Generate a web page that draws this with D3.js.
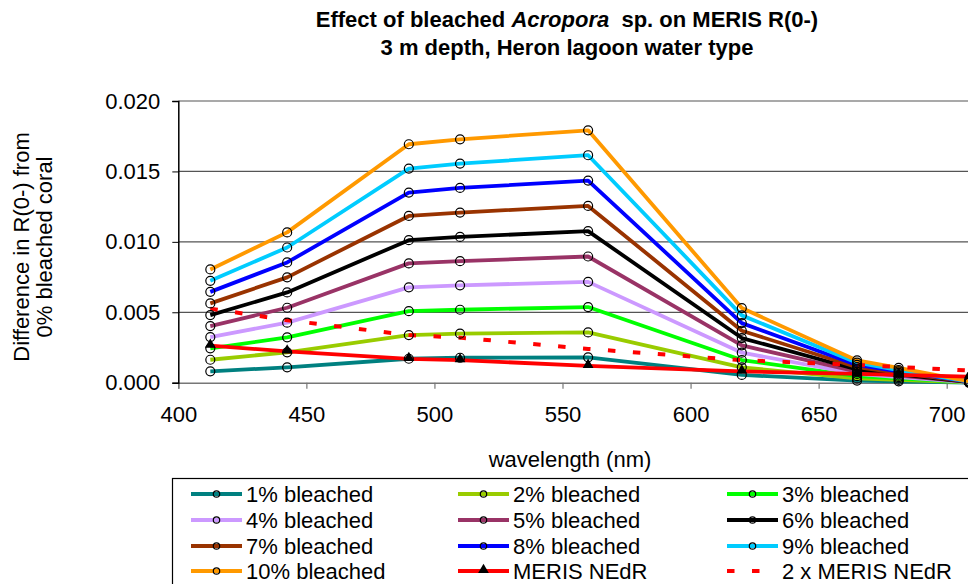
<!DOCTYPE html>
<html><head><meta charset="utf-8">
<script src="https://cdn.jsdelivr.net/npm/d3@7"></script>
<style>body{margin:0;background:#fff}svg{display:block}text{font-family:"Liberation Sans",Arial,sans-serif;fill:#000}</style>
</head><body>
<svg id="c" width="968" height="584"></svg>
<script>
const wavelengths = [412.5, 442.5, 490, 510, 560, 620, 665, 681.25, 708.75];
const seriesNames = ["1% bleached","2% bleached","3% bleached","4% bleached","5% bleached","6% bleached","7% bleached","8% bleached","9% bleached","10% bleached"];
const seriesColors = ["#008080","#99CC00","#00FF00","#CC99FF","#993366","#000000","#993300","#0000FF","#00CCFF","#FF9900"];
const b1  = [0.00081,0.00109,0.00170,0.00177,0.00180,0.00055,0.00015,0.00010,0.00001];
const b2  = [0.00163,0.00216,0.00338,0.00348,0.00357,0.00109,0.00030,0.00020,0.00002];
const b3  = [0.00244,0.00322,0.00508,0.00518,0.00537,0.00161,0.00046,0.00030,0.00003];
const b4  = [0.00324,0.00426,0.00677,0.00691,0.00716,0.00213,0.00062,0.00040,0.00004];
const b5  = [0.00402,0.00532,0.00847,0.00863,0.00896,0.00265,0.00078,0.00050,0.00005];
const b6  = [0.00480,0.00641,0.01012,0.01035,0.01076,0.00317,0.00094,0.00060,0.00006];
const b7  = [0.00563,0.00748,0.01184,0.01208,0.01255,0.00369,0.00110,0.00070,0.00007];
const b8  = [0.00645,0.00854,0.01350,0.01383,0.01435,0.00423,0.00126,0.00080,0.00008];
const b9  = [0.00723,0.00960,0.01520,0.01556,0.01615,0.00478,0.00142,0.00090,0.00009];
const b10 = [0.00804,0.01067,0.01693,0.01728,0.01792,0.00530,0.00158,0.00105,0.00010];
const nedr   = [0.00263,0.00222,0.00169,0.00160,0.00120,0.00080,0.00063,0.00056,0.00043];
const nedr2x = [0.00526,0.00444,0.00338,0.00320,0.00240,0.00160,0.00126,0.00112,0.00086];
const yTicks = [0, 0.005, 0.010, 0.015, 0.020];
const xTicks = [400, 450, 500, 550, 600, 650, 700];
const titleLines = ["3 m depth, Heron lagoon water type"];
const yTitle = ["Difference in R(0-) from", "0% bleached coral"];
const xTitle = "wavelength (nm)";
const bleached = [b1,b2,b3,b4,b5,b6,b7,b8,b9,b10];

const FS = 22;
const svg = d3.select("#c");
const x = d3.scaleLinear().domain([400, 750]).range([178.3, 178.3 + 350 * (768.4 / 300)]);
const y = d3.scaleLinear().domain([0, 0.020]).range([382.7, 101]);

// gridlines
svg.append("g").selectAll("line").data(yTicks.slice(1)).join("line")
  .attr("x1", 178.3).attr("x2", 968).attr("y1", d => y(d)).attr("y2", d => y(d))
  .attr("stroke", "#555").attr("stroke-width", 1.2);

// axes
const xa = svg.append("g").attr("transform", `translate(0,${y(0)})`)
  .call(d3.axisBottom(x).tickValues(xTicks).tickSize(6).tickPadding(18).tickFormat(d3.format("d")));
xa.select(".domain").attr("stroke", "#777").attr("stroke-width", 1.5);
xa.selectAll(".tick line").attr("stroke", "#777").attr("stroke-width", 1.2);
xa.selectAll("text").attr("font-size", FS).style("font-family", "'Liberation Sans',Arial,sans-serif");

const ya = svg.append("g").attr("transform", `translate(${x(400)},0)`)
  .call(d3.axisLeft(y).tickValues(yTicks).tickSize(6).tickPadding(12).tickFormat(d3.format(".3f")));
ya.select(".domain").attr("stroke", "#000").attr("stroke-width", 1.5);
ya.selectAll(".tick line").attr("stroke", "#000");
ya.selectAll("text").attr("font-size", FS).style("font-family", "'Liberation Sans',Arial,sans-serif");

const line = d3.line().x((d, i) => x(wavelengths[i])).y(d => y(d));

// series lines
bleached.forEach((s, k) => {
  svg.append("path").attr("d", line(s)).attr("fill", "none")
    .attr("stroke", seriesColors[k]).attr("stroke-width", 3.8).attr("stroke-linejoin", "round");
});
svg.append("path").attr("d", line(nedr)).attr("fill", "none").attr("stroke", "#FF0000").attr("stroke-width", 3.8);
svg.append("path").attr("d", line(nedr2x)).attr("fill", "none").attr("stroke", "#FF0000")
  .attr("stroke-width", 4).attr("stroke-dasharray", "7.5,17.5");

// markers
bleached.forEach((s, k) => {
  svg.append("g").selectAll("circle").data(s).join("circle")
    .attr("cx", (d, i) => x(wavelengths[i])).attr("cy", d => y(d)).attr("r", 4.5)
    .attr("fill", "none").attr("stroke", "#000").attr("stroke-width", 1.2);
});
const tri = d3.symbol().type(d3.symbolTriangle).size(50);
svg.append("g").selectAll("path").data(nedr).join("path")
  .attr("d", tri).attr("transform", (d, i) => `translate(${x(wavelengths[i])},${y(d) - 1})`)
  .attr("fill", "#000");

// title
const t = svg.append("text").attr("x", 567).attr("y", 27).attr("text-anchor", "middle")
  .attr("font-size", FS).attr("font-weight", "bold");
t.append("tspan").text("Effect of bleached ");
t.append("tspan").attr("font-style", "italic").text("Acropora");
t.append("tspan").text("\u00a0 sp. on MERIS R(0-)");
svg.append("text").attr("x", 567).attr("y", 55).attr("text-anchor", "middle")
  .attr("font-size", FS).attr("font-weight", "bold").text(titleLines[0]);

// axis titles
svg.append("text").attr("x", 570).attr("y", 467).attr("text-anchor", "middle").attr("font-size", FS).text(xTitle);
yTitle.forEach((s, i) => {
  svg.append("text").attr("transform", `translate(${21 + i * 23},247) rotate(-90)`)
    .attr("text-anchor", "middle").attr("dominant-baseline", "central").attr("font-size", FS).text(s);
});

// legend
svg.append("rect").attr("x", 172.5).attr("y", 478.5).attr("width", 900).attr("height", 200)
  .attr("fill", "#fff").attr("stroke", "#000").attr("stroke-width", 1.2);
const colX = [191, 458, 727];
const rowY = [494, 520, 546, 571];
const legendItems = seriesNames.map((n, k) => ({name: n, color: seriesColors[k], type: "circle"}))
  .concat([{name: "MERIS NEdR", color: "#FF0000", type: "tri"}, {name: "2 x MERIS NEdR", color: "#FF0000", type: "dash"}]);
legendItems.forEach((it, k) => {
  const cx = colX[k % 3], cy = rowY[Math.floor(k / 3)];
  const g = svg.append("g");
  g.append("line").attr("x1", cx).attr("x2", cx + (it.type === "dash" ? 33 : 51)).attr("y1", cy).attr("y2", cy)
    .attr("stroke", it.color).attr("stroke-width", 4)
    .attr("stroke-dasharray", it.type === "dash" ? "7.5,17.5" : null);
  if (it.type === "circle") g.append("circle").attr("cx", cx + 25.5).attr("cy", cy).attr("r", 3.2)
    .attr("fill", "none").attr("stroke", "#000").attr("stroke-width", 1.2);
  if (it.type === "tri") g.append("path").attr("d", tri).attr("transform", `translate(${cx + 25.5},${cy - 1})`).attr("fill", "#000");
  g.append("text").attr("x", cx + 55).attr("y", cy).attr("dominant-baseline", "central").attr("font-size", FS).text(it.name);
});
</script>
</body></html>
